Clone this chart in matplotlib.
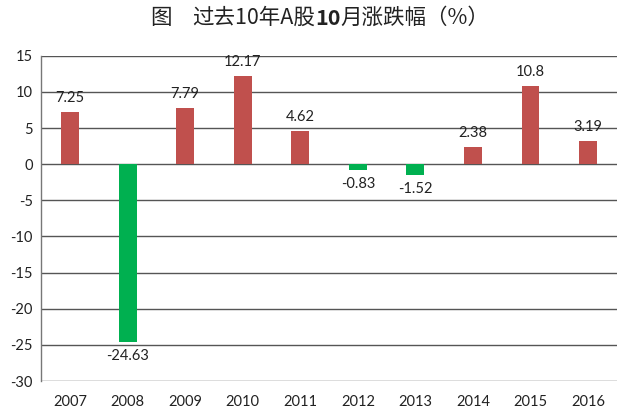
import matplotlib
matplotlib.use("Agg")
import matplotlib.pyplot as plt

years = ["2007", "2008", "2009", "2010", "2011", "2012", "2013", "2014", "2015", "2016"]
values = [7.25, -24.63, 7.79, 12.17, 4.62, -0.83, -1.52, 2.38, 10.8, 3.19]
labels = ["7.25", "-24.63", "7.79", "12.17", "4.62", "-0.83", "-1.52", "2.38", "10.8", "3.19"]
yticks = [15, 10, 5, 0, -5, -10, -15, -20, -25, -30]

RED = "#C0504D"
GREEN = "#00B050"

plt.rcParams['font.family'] = ['Lato', 'DejaVu Sans']

fig = plt.figure(figsize=(6.25, 4.17), dpi=100)
ax = fig.add_axes([0.066, 0.0863, 0.921, 0.78])

x = list(range(len(years)))
colors = [RED if v >= 0 else GREEN for v in values]
bars = ax.bar(x, values, width=0.31, color=colors, zorder=3)

for xi, v, lab in zip(x, values, labels):
    if v >= 0:
        ax.annotate(lab, (xi, v), xytext=(0, 5), textcoords="offset points",
                    ha="center", va="bottom", fontsize=10.5, color="#222222")
    else:
        ax.annotate(lab, (xi, v), xytext=(0, -5), textcoords="offset points",
                    ha="center", va="top", fontsize=10.5, color="#222222")

ax.set_xlim(-0.5, len(years) - 0.5)
ax.set_ylim(-30, 15)
ax.set_yticks(yticks)
ax.set_yticklabels([str(t) for t in yticks], fontsize=10.5, color="#222222")
ax.set_xticks(x)
ax.set_xticklabels(years, fontsize=10.5, color="#222222")
ax.tick_params(axis="both", length=0, pad=6)
ax.tick_params(axis="x", pad=10)
ax.yaxis.grid(True, color="#555555", linewidth=1.0, zorder=0)
for s in ["top", "right", "bottom"]:
    ax.spines[s].set_visible(False)
ax.spines["left"].set_color("#777777")
ax.spines["left"].set_linewidth(1.0)

cjk = ['Noto Sans CJK SC', 'DejaVu Sans']
fs = 15.5
t0 = fig.text(150 / 625, 0.957, "图", fontsize=fs, family=cjk, va="center", ha="left", color="#222222")
t1 = fig.text(192 / 625, 0.957, "过去10年A股", fontsize=fs, family=cjk, va="center", ha="left", color="#222222")
fig.canvas.draw()
t2 = ax.annotate("10", xy=(1, 0), xycoords=t1, va="bottom", ha="left",
                 fontsize=fs, family=cjk, fontweight="bold", color="#222222")
fig.canvas.draw()
t3 = ax.annotate("月涨跌幅（%）", xy=(1, 0), xycoords=t2, va="bottom", ha="left",
                 fontsize=fs, family=cjk, color="#222222")

fig.savefig("out.png", dpi=100)
